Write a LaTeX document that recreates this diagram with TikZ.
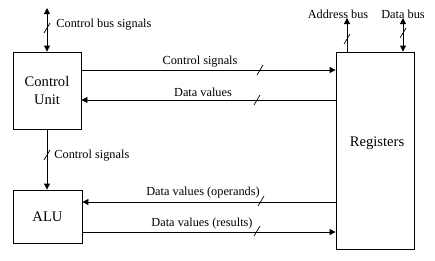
\documentclass[tikz,border=0pt]{standalone}
\usepackage{fontspec}
\setmainfont{Liberation Serif}
\usetikzlibrary{arrows.meta}

\begin{document}
\begin{tikzpicture}[x=1pt,y=-1pt,line width=0.9pt,
  unit/.style={draw, font=\fontsize{14.6}{18}\selectfont, align=center},
  lbl/.style={font=\fontsize{12.3}{14}\selectfont, inner sep=1pt},
  sig/.style={-{Triangle[length=6pt,width=6pt]}},
  both/.style={{Triangle[length=6pt,width=6pt]}-{Triangle[length=6pt,width=6pt]}}]
  \useasboundingbox (0,0) rectangle (435,260);
  % blocks
  \node[unit, minimum width=68pt, minimum height=77pt] (cu) at (47,90.5) {Control\\Unit};
  \node[unit, minimum width=69pt, minimum height=53pt] (alu) at (47.5,216.5) {ALU};
  \node[unit, minimum width=78pt, minimum height=197pt] (reg) at (375,150.5) {};
  \node[font=\fontsize{14.6}{18}\selectfont] (regtxt) at (377,143) {Registers};
  % external buses
  \coordinate (cbus) at (47,8);
  \coordinate (abus) at (347,18);
  \coordinate (dbus) at (403,18);
  \draw[both] (cbus) -- (cu.north);
  \draw[sig] (reg.north -| abus) -- (abus);
  \draw[both] (reg.north -| dbus) -- (dbus);
  % internal paths
  \draw[sig] (cu.east |- 0,70) -- (reg.west |- 0,70);
  \draw[sig] (reg.west |- 0,100) -- (cu.east |- 0,100);
  \draw[sig] (cu.south) -- (cu.south |- alu.north);
  \draw[sig] (reg.west |- 0,202) -- (alu.east |- 0,202);
  \draw[sig] (alu.east |- 0,232) -- (reg.west |- 0,232);
  % bus width marks
  \foreach \x/\y in {47/28, 260/70, 257/100, 47/155, 261/201, 257/231, 347/39, 403/33}
    \draw[line width=0.7pt] (\x,\y) ++(-3,5) -- ++(6,-10);
  % labels
  \node[lbl, anchor=west] (cbl) at (55,25) {Control bus signals};
  \node[lbl] (csl) at (200,62) {Control signals};
  \node[lbl] (dvl) at (203,92) {Data values};
  \node[lbl, anchor=west] (acl) at (53,156) {Control signals};
  \node[lbl] (opl) at (203,193) {Data values (operands)};
  \node[lbl] (rsl) at (202,224) {Data values (results)};
  \node[lbl] (abl) at (338,14) {Address bus};
  \node[lbl] (dbl) at (403,14) {Data bus};
\end{tikzpicture}
\end{document}
